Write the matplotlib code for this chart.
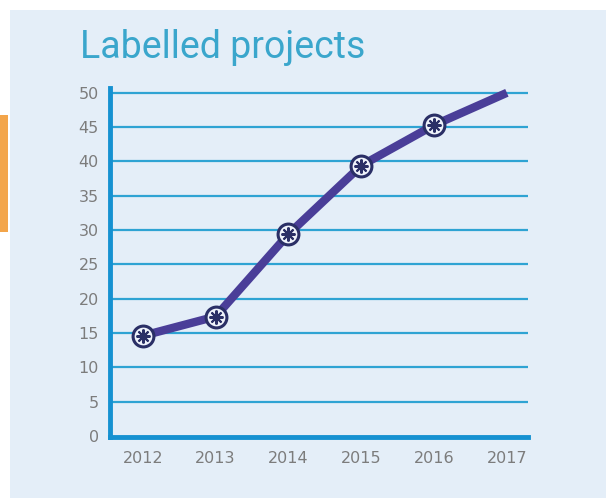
import matplotlib
matplotlib.use("Agg")
import matplotlib.pyplot as plt
from matplotlib.patches import Rectangle

years = [2012, 2013, 2014, 2015, 2016, 2017]
projects = [14.6, 17.4, 29.4, 39.4, 45.3, 50]
yticks = [0, 5, 10, 15, 20, 25, 30, 35, 40, 45, 50]

W, H = 606, 498
fig = plt.figure(figsize=(W/100, H/100), dpi=100)
fig.patch.set_facecolor("white")
fig.patches.append(Rectangle((10/W, 0), 1 - 10/W, 1 - 10/H, transform=fig.transFigure,
                             facecolor="#e4eef8", edgecolor="none", zorder=-5))
fig.patches.append(Rectangle((0, 1 - 232/H), 8/W, 117/H, transform=fig.transFigure,
                             facecolor="#f3a54a", edgecolor="none", zorder=-5))

ax = fig.add_axes([110/W, 1 - 437/H, (528 - 110)/W, (437 - 88)/H])
ax.set_zorder(5)
ax.set_facecolor("none")
ax.set_xlim(2011.55, 2017.29)
ax.set_ylim(-0.15, 50.7)

for v in yticks[1:]:
    ax.axhline(v, color="#2ea3d3", lw=1.6, zorder=1)

line_col = "#4a3e98"
ax.plot(years, projects, color=line_col, lw=6, solid_capstyle="butt",
        solid_joinstyle="round", zorder=3)
ax.plot(years[:-1], projects[:-1], ls="none", marker="o", ms=15,
        mfc="#eef2fa", mec="#2a2f66", mew=2.2, zorder=4)
ax.plot(years[:-1], projects[:-1], ls="none", marker=(8, 2, 0), ms=10,
        mec="#2a2f66", mew=1.5, zorder=5)

for s in ["top", "right"]:
    ax.spines[s].set_visible(False)
for s in ["left", "bottom"]:
    ax.spines[s].set_color("#1591d1")
    ax.spines[s].set_linewidth(3.5)
    ax.spines[s].set_zorder(6)

ax.set_yticks(yticks)
ax.set_xticks(years)
ax.tick_params(length=0, labelsize=11.5, labelcolor="#7c7c7c", pad=10)
ax.tick_params(axis="y", pad=8)
for lbl in ax.get_xticklabels() + ax.get_yticklabels():
    lbl.set_family("DejaVu Sans")

fig.text(80/W, 1 - 47/H, "Labelled projects", fontsize=27, color="#3aa6cc",
         family="Roboto", va="center", ha="left", zorder=6)

fig.savefig("out.png", dpi=100)
